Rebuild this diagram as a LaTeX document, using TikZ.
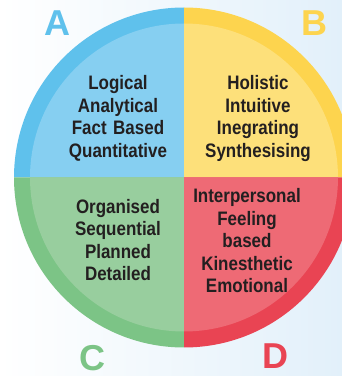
\documentclass[tikz,border=0pt]{standalone}
\usepackage{fontspec}
\setmainfont{Liberation Sans}
\newfontfamily\narrowfont{Liberation Sans}[FakeStretch=0.87]
\definecolor{blueout}{HTML}{5FC1EC}
\definecolor{bluein}{HTML}{86CFF1}
\definecolor{yellowout}{HTML}{FDD44E}
\definecolor{yellowin}{HTML}{FDE07A}
\definecolor{greenout}{HTML}{7CC486}
\definecolor{greenin}{HTML}{98CE9E}
\definecolor{redout}{HTML}{E94453}
\definecolor{redin}{HTML}{EE6A75}
\definecolor{inkdark}{HTML}{231F20}
\definecolor{bgblue}{HTML}{E2F0FA}
\begin{document}
\begin{tikzpicture}[x=1pt,y=1pt,
  quad/.style={text width=130pt, align=center, text=inkdark,
    font=\narrowfont\bfseries\fontsize{19.5}{22.5}\selectfont},
  letter/.style={inner sep=0pt, font=\bfseries\fontsize{36}{36}\selectfont}]
  \useasboundingbox (0,0) rectangle (342,376);
  \clip (0,0) rectangle (342,376);
  \shade[left color=white, right color=bgblue] (0,0) rectangle (342,376);

  \coordinate (c) at (184,198.5);
  % four quadrants, outer ring then lighter inside
  \foreach \s/\outer/\inner in {90/blueout/bluein, 0/yellowout/yellowin, 180/greenout/greenin, 270/redout/redin}{
    \fill[\outer] (c) -- ++(\s:170) arc[start angle=\s, delta angle=90, radius=170] -- cycle;
    \fill[\inner] (c) -- ++(\s:154) arc[start angle=\s, delta angle=90, radius=154] -- cycle;
  }

  \node[quad] (logical) at (118,257.5) {Logical\\Analytical\\Fact Based\\Quantitative};
  \node[quad] (holistic) at (258,257.5) {Holistic\\Intuitive\\Inegrating\\Synthesising};
  \node[quad] (organised) at (118,136) {Organised\\Sequential\\Planned\\Detailed};
  \node[quad] (feeling) at (247,135) {Interpersonal\\Feeling\\based\\Kinesthetic\\Emotional};

  \node[letter, text=blueout] (A) at (57,353) {A};
  \node[letter, text=yellowout] (B) at (314,353) {B};
  \node[letter, text=greenout] (C) at (92,18) {C};
  \node[letter, text=redout] (D) at (275,20) {D};
\end{tikzpicture}
\end{document}
